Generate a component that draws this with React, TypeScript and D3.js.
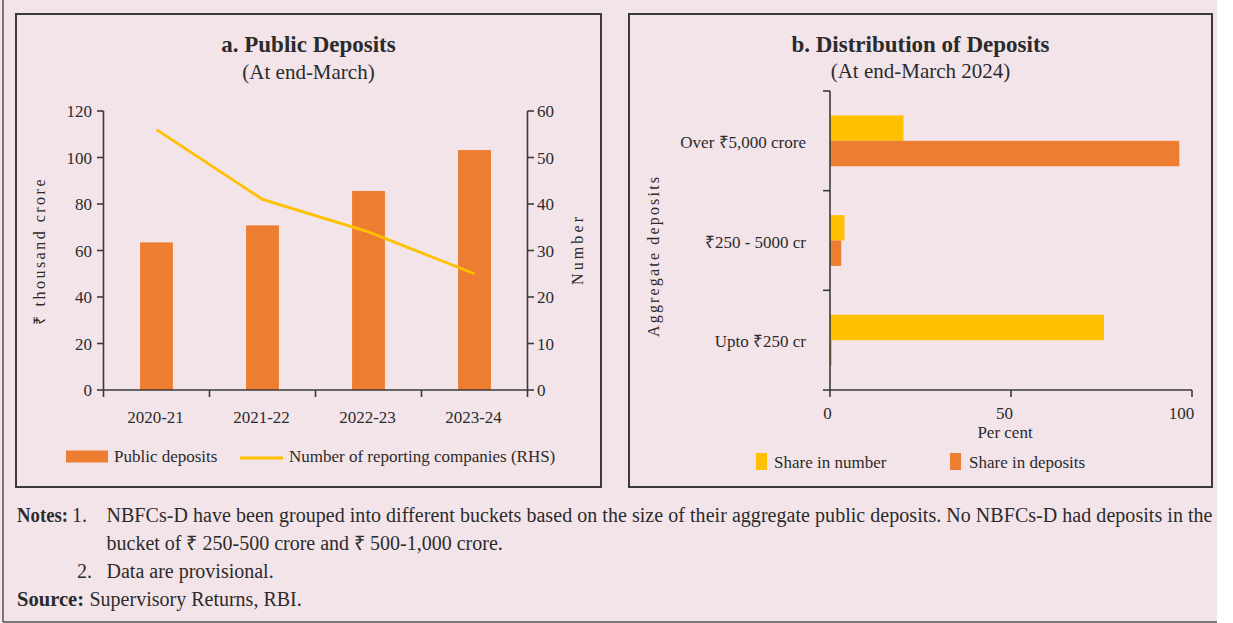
import React from "react";
import * as d3 from "d3";

// ---------- Data ----------
const years = ["2020-21", "2021-22", "2022-23", "2023-24"];
const publicDeposits = [63.5, 70.8, 85.6, 103.2]; // ₹ thousand crore
const reportingCompanies = [56, 41, 34, 25]; // number (RHS)
const leftTicks = [0, 20, 40, 60, 80, 100, 120];
const rightTicks = [0, 10, 20, 30, 40, 50, 60];

const buckets = ["Over ₹5,000 crore", "₹250 - 5000 cr", "Upto ₹250 cr"];
const seriesNames = ["Share in number", "Share in deposits"];
const shareNumber = [20.3, 4.0, 75.7];
const shareDeposits = [96.5, 3.1, 0.4];
const pctTicks = [0, 50, 100];

const noteLines = [
  "NBFCs-D have been grouped into different buckets based on the size of their aggregate public deposits. No NBFCs-D had deposits in the",
  "bucket of ₹ 250-500 crore and ₹ 500-1,000 crore.",
  "Data are provisional.",
];
const sourceText = "Supervisory Returns, RBI.";

// ---------- Styles ----------
const FONT = "'Liberation Serif', 'Times New Roman', serif";
const BG = "#F3E4EA";
const INK = "#2b2b2b";
const AXIS = "#3a3a3a";
const ORANGE = "#ED7D31";
const YELLOW = "#FFC000";

function LeftChart() {
  const xL = d3.scaleBand<string>().domain(years).range([103.5, 527.5]);
  const yL = d3.scaleLinear().domain([0, 120]).range([390, 111]);
  const yR = d3.scaleLinear().domain([0, 60]).range([390, 111]);
  const bw = xL.bandwidth();
  const barW = bw * 0.31;
  const line = d3
    .line<number>()
    .x((_, i) => (xL(years[i]) as number) + bw / 2)
    .y((d) => yR(d));
  const boundaries = [...years.map((y) => xL(y) as number), xL.range()[1]];

  return (
    <g fontFamily={FONT} fill={INK}>
      <rect x={16} y={14} width={585} height={473} fill="none" stroke={AXIS} strokeWidth={2} />
      <text x={308.5} y={52} textAnchor="middle" fontSize={23} fontWeight="bold">
        a. Public Deposits
      </text>
      <text x={308.5} y={79} textAnchor="middle" fontSize={21}>
        (At end-March)
      </text>

      {/* bars */}
      {years.map((y, i) => (
        <rect
          key={y}
          x={(xL(y) as number) + (bw - barW) / 2}
          y={yL(publicDeposits[i])}
          width={barW}
          height={yL(0) - yL(publicDeposits[i])}
          fill={ORANGE}
        />
      ))}
      {/* line */}
      <path d={line(reportingCompanies) || ""} fill="none" stroke={YELLOW} strokeWidth={2.8} />

      {/* left axis */}
      <line x1={103.5} x2={103.5} y1={111} y2={390} stroke={AXIS} strokeWidth={1.6} />
      {leftTicks.map((t) => (
        <g key={t}>
          <line x1={97} x2={103.5} y1={yL(t)} y2={yL(t)} stroke={AXIS} strokeWidth={1.6} />
          <text x={92} y={yL(t) + 6} textAnchor="end" fontSize={17}>
            {t}
          </text>
        </g>
      ))}
      {/* right axis */}
      <line x1={527.5} x2={527.5} y1={111} y2={390} stroke={AXIS} strokeWidth={1.6} />
      {rightTicks.map((t) => (
        <g key={t}>
          <line x1={527.5} x2={534} y1={yR(t)} y2={yR(t)} stroke={AXIS} strokeWidth={1.6} />
          <text x={537} y={yR(t) + 6} textAnchor="start" fontSize={17}>
            {t}
          </text>
        </g>
      ))}
      {/* bottom axis */}
      <line x1={103.5} x2={527.5} y1={390} y2={390} stroke={AXIS} strokeWidth={1.6} />
      {boundaries.map((b, i) => (
        <line key={i} x1={b} x2={b} y1={390} y2={397} stroke={AXIS} strokeWidth={1.6} />
      ))}
      {years.map((y) => (
        <text key={y} x={(xL(y) as number) + bw / 2 - 1} y={423} textAnchor="middle" fontSize={17}>
          {y}
        </text>
      ))}

      {/* axis titles */}
      <text
        transform="translate(45,252) rotate(-90)"
        textAnchor="middle"
        fontSize={16}
        textLength={145}
        lengthAdjust="spacing"
      >
        ₹ thousand crore
      </text>
      <text
        transform="translate(583,251) rotate(-90)"
        textAnchor="middle"
        fontSize={16}
        textLength={68}
        lengthAdjust="spacing"
      >
        Number
      </text>

      {/* legend */}
      <rect x={66} y={450.5} width={42} height={12} fill={ORANGE} />
      <text x={114} y={462} fontSize={17}>
        Public deposits
      </text>
      <line x1={240} x2={283} y1={458} y2={458} stroke={YELLOW} strokeWidth={2.8} />
      <text x={289} y={462} fontSize={17}>
        Number of reporting companies (RHS)
      </text>
    </g>
  );
}

function RightChart() {
  const yB = d3.scaleBand<string>().domain(buckets).range([91, 390]);
  const bw = yB.bandwidth();
  const inner = d3.scaleBand<string>().domain(seriesNames).range([bw * 0.245, bw * 0.755]);
  const xP = d3.scaleLinear().domain([0, 100]).range([830, 1192]);
  const series = [
    { name: seriesNames[0], values: shareNumber, color: YELLOW },
    { name: seriesNames[1], values: shareDeposits, color: ORANGE },
  ];
  const boundaries = [...buckets.map((b) => yB(b) as number), yB.range()[1]];

  return (
    <g fontFamily={FONT} fill={INK}>
      <rect x={629} y={14} width={583} height={473} fill="none" stroke={AXIS} strokeWidth={2} />
      <text x={920.5} y={52} textAnchor="middle" fontSize={23} fontWeight="bold">
        b. Distribution of Deposits
      </text>
      <text x={920.5} y={78} textAnchor="middle" fontSize={21}>
        (At end-March 2024)
      </text>

      {series.map((s) =>
        buckets.map((b, i) => (
          <rect
            key={s.name + b}
            x={xP(0)}
            y={(yB(b) as number) + (inner(s.name) as number)}
            width={xP(s.values[i]) - xP(0)}
            height={inner.bandwidth()}
            fill={s.color}
          />
        ))
      )}

      {/* y axis */}
      <line x1={830} x2={830} y1={91} y2={390} stroke={AXIS} strokeWidth={1.6} />
      {boundaries.map((b, i) => (
        <line key={i} x1={823} x2={830} y1={b} y2={b} stroke={AXIS} strokeWidth={1.6} />
      ))}
      {buckets.map((b) => (
        <text key={b} x={806} y={(yB(b) as number) + bw / 2 + 7} textAnchor="end" fontSize={17}>
          {b}
        </text>
      ))}
      {/* x axis */}
      <line x1={830} x2={1192} y1={390} y2={390} stroke={AXIS} strokeWidth={1.6} />
      {pctTicks.map((t) => (
        <g key={t}>
          <line x1={xP(t)} x2={xP(t)} y1={390} y2={397} stroke={AXIS} strokeWidth={1.6} />
          <text x={xP(t) - 2.5 - t * 0.08} y={419} textAnchor="middle" fontSize={17}>
            {t}
          </text>
        </g>
      ))}
      <text x={1005} y={438} textAnchor="middle" fontSize={17}>
        Per cent
      </text>
      <text
        transform="translate(659,257) rotate(-90)"
        textAnchor="middle"
        fontSize={16}
        textLength={160}
        lengthAdjust="spacing"
      >
        Aggregate deposits
      </text>

      {/* legend */}
      <rect x={756} y={453} width={11} height={17} fill={YELLOW} />
      <text x={774} y={468} fontSize={17}>
        {seriesNames[0]}
      </text>
      <rect x={950} y={453} width={11} height={17} fill={ORANGE} />
      <text x={969} y={468} fontSize={17}>
        {seriesNames[1]}
      </text>
    </g>
  );
}

function Notes() {
  return (
    <g fontFamily={FONT} fill={INK} fontSize={20}>
      <text x={17} y={522} fontWeight="bold" textLength={51} lengthAdjust="spacingAndGlyphs">
        Notes:
      </text>
      <text x={72} y={522}>1.</text>
      <text x={106.5} y={522} textLength={1106} lengthAdjust="spacing">
        {noteLines[0]}
      </text>
      <text x={106.5} y={550}>{noteLines[1]}</text>
      <text x={77} y={578}>2.</text>
      <text x={106.5} y={578}>{noteLines[2]}</text>
      <text x={17} y={606} fontWeight="bold" textLength={67} lengthAdjust="spacingAndGlyphs">
        Source:
      </text>
      <text x={89.5} y={606}>{sourceText}</text>
    </g>
  );
}

export default function App() {
  return (
    <svg
      width={1233}
      height={623}
      style={{ position: "absolute", left: 0, top: 0, background: "#ffffff" }}
    >
      <rect x={0} y={0} width={1217} height={623} fill={BG} />
      <line x1={3} y1={0} x2={3} y2={622} stroke="#555" strokeWidth={1.5} />
      <line x1={3} y1={622} x2={1217} y2={622} stroke="#555" strokeWidth={1.5} />
      <LeftChart />
      <RightChart />
      <Notes />
    </svg>
  );
}
